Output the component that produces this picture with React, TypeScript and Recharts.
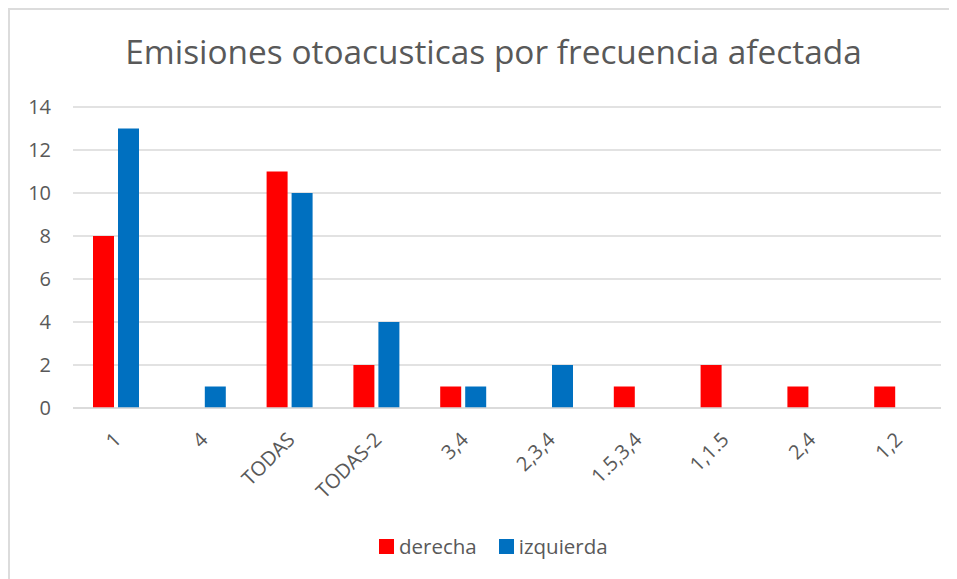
import React from "react";
import { Bar, BarChart, CartesianGrid, Legend, XAxis, YAxis } from "recharts";

const categories = ["1", "4", "TODAS", "TODAS-2", "3,4", "2,3,4", "1.5,3,4", "1,1.5", "2,4", "1,2"];
const derecha = [8, 0, 11, 2, 1, 0, 1, 2, 1, 1];
const izquierda = [13, 1, 10, 4, 1, 2, 0, 0, 0, 0];
const yTicks = [0, 2, 4, 6, 8, 10, 12, 14];
const title = "Emisiones otoacusticas por frecuencia afectada";

const data = categories.map((name, i) => ({ name, derecha: derecha[i], izquierda: izquierda[i] }));

const TEXT = "#595959";
const GRID = "#d9d9d9";

function AngledTick({ x, y, payload }: any) {
  return (
    <g transform={`translate(${x + 6},${y + 33})`}>
      <text textAnchor="end" transform="rotate(-45)" fill={TEXT} fontSize={20}>
        {payload.value}
      </text>
    </g>
  );
}

function LegendContent({ payload }: any) {
  return (
    <div style={{ display: "flex", alignItems: "center", height: 20, fontSize: 20.5, lineHeight: "20px", color: TEXT }}>
      {(payload || []).map((entry: any, i: number) => (
        <div key={entry.value} style={{ display: "flex", alignItems: "center", marginLeft: i ? 22 : 0 }}>
          <span style={{ width: 15, height: 15, background: entry.color, display: "inline-block", marginRight: 5 }} />
          <span>{entry.value}</span>
        </div>
      ))}
    </div>
  );
}

export default function App() {
  return (
    <div
      style={{
        position: "relative",
        width: 949,
        height: 571,
        borderTop: "2px solid #dcdcdc",
        borderLeft: "2px solid #dcdcdc",
        boxSizing: "border-box",
        fontFamily: '"Open Sans", sans-serif',
      }}
    >
      <div style={{ position: "absolute", left: -10, top: -10 }}>
        <BarChart
          width={957}
          height={579}
          data={data}
          margin={{ top: 107, right: 16, left: 0, bottom: 71 }}
          barCategoryGap={20}
          barGap={4}
        >
          <text x={493.5} y={64} textAnchor="middle" fontSize={33.4} fill={TEXT}>
            {title}
          </text>
          <CartesianGrid vertical={false} stroke={GRID} strokeWidth={1.5} />
          <XAxis
            dataKey="name"
            interval={0}
            height={100}
            tickSize={0}
            tickMargin={0}
            tickLine={false}
            axisLine={{ stroke: GRID, strokeWidth: 1.5 }}
            tick={<AngledTick />}
          />
          <YAxis
            width={73}
            domain={[0, 14]}
            ticks={yTicks}
            axisLine={false}
            tickLine={false}
            tickMargin={16}
            tick={{ fill: TEXT, fontSize: 20 }}
          />
          <Legend
            layout="horizontal"
            verticalAlign="middle"
            align="center"
            wrapperStyle={{ left: 379, top: 536, width: 300 }}
            content={<LegendContent />}
          />
          <Bar dataKey="derecha" name="derecha" fill="#ff0000" isAnimationActive={false} />
          <Bar dataKey="izquierda" name="izquierda" fill="#0070c0" isAnimationActive={false} />
        </BarChart>
      </div>
    </div>
  );
}
